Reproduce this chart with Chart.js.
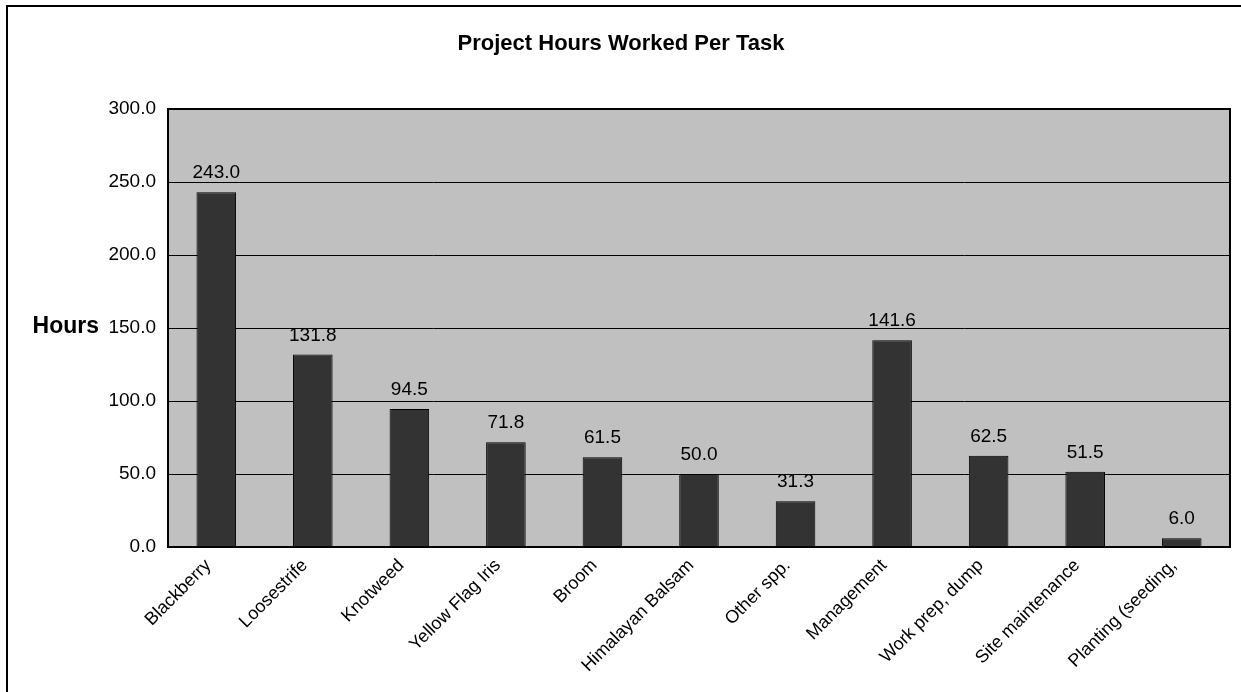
<!DOCTYPE html>
<html>
<head>
<meta charset="utf-8">
<script src="https://cdn.jsdelivr.net/npm/chart.js@4/dist/chart.umd.min.js"></script>
<style>
  html, body { margin: 0; padding: 0; background: #fff; }
  #wrap { width: 1241px; height: 692px; position: relative; }
</style>
</head>
<body>
<div id="wrap"><canvas id="hoursChart"></canvas></div>
<script>
// Datos del gráfico
const tasks = ["Blackberry", "Loosestrife", "Knotweed", "Yellow Flag Iris", "Broom",
  "Himalayan Balsam", "Other spp.", "Management", "Work prep, dump", "Site maintenance", "Planting (seeding,"];
const hours = [243.0, 131.8, 94.5, 71.8, 61.5, 50.0, 31.3, 141.6, 62.5, 51.5, 6.0];
const yTicks = [0, 50, 100, 150, 200, 250, 300];

const FONT = "'Liberation Sans', Arial, sans-serif";

// Marco, fondo del área de trazado, título y etiquetas
const decorations = {
  id: 'decorations',
  beforeDraw(chart) {
    const { ctx, chartArea: a } = chart;
    ctx.save();
    ctx.fillStyle = '#fff';
    ctx.fillRect(0, 0, chart.width, chart.height);
    ctx.strokeStyle = '#000';
    ctx.lineWidth = 2;
    ctx.strokeRect(7, 6, chart.width, chart.height);
    ctx.fillStyle = '#c0c0c0';
    ctx.fillRect(a.left, a.top, a.right - a.left, a.bottom - a.top);
    ctx.restore();
  },
  afterDraw(chart) {
    const { ctx, chartArea: a, scales } = chart;
    ctx.save();
    ctx.strokeStyle = '#000';
    ctx.lineWidth = 2;
    ctx.strokeRect(a.left, a.top, a.right - a.left, a.bottom - a.top);

    ctx.fillStyle = '#000';
    ctx.font = "bold 22px " + FONT;
    ctx.textAlign = 'center';
    ctx.textBaseline = 'middle';
    ctx.fillText('Project Hours Worked Per Task', 621, 44);

    ctx.font = "bold 23px " + FONT;
    ctx.textAlign = 'right';
    ctx.fillText('Hours', a.left - 69, scales.y.getPixelForValue(150) - 1);

    // valores sobre las barras
    ctx.font = "19px " + FONT;
    ctx.textAlign = 'center';
    ctx.textBaseline = 'alphabetic';
    chart.getDatasetMeta(0).data.forEach((bar, i) => {
      ctx.fillText(hours[i].toFixed(1), bar.x, bar.y - 14);
    });
    ctx.restore();
  }
};

function createChart() {
  const ctx = document.getElementById('hoursChart').getContext('2d');
  new Chart(ctx, {
    type: 'bar',
    data: {
      labels: tasks,
      datasets: [{
        data: hours,
        backgroundColor: '#333333',
        borderColor: '#000',
        borderWidth: 1,
        categoryPercentage: 1,
        barPercentage: 0.41
      }]
    },
    options: {
      responsive: true,
      maintainAspectRatio: false,
      animation: false,
      layout: { padding: { top: 109, right: 11, left: 0, bottom: 0 } },
      plugins: { legend: { display: false }, title: { display: false }, tooltip: { enabled: false } },
      scales: {
        x: {
          afterFit(scale) { scale.height = 145; },
          grid: { display: false },
          border: { display: false },
          ticks: {
            autoSkip: false, maxRotation: 45, minRotation: 45,
            color: '#000', font: { family: FONT, size: 18 }, padding: 0, labelOffset: -8
          }
        },
        y: {
          min: 0, max: 300,
          afterFit(scale) { scale.width = 168; },
          afterBuildTicks(scale) { scale.ticks = yTicks.map(v => ({ value: v })); },
          grid: { color: '#000', lineWidth: 1, drawTicks: false },
          border: { display: false },
          ticks: {
            color: '#000', font: { family: FONT, size: 19 }, padding: 12,
            callback: v => Number(v).toFixed(1)
          }
        }
      }
    },
    plugins: [decorations]
  });
}

document.addEventListener("DOMContentLoaded", createChart);
</script>
</body>
</html>
